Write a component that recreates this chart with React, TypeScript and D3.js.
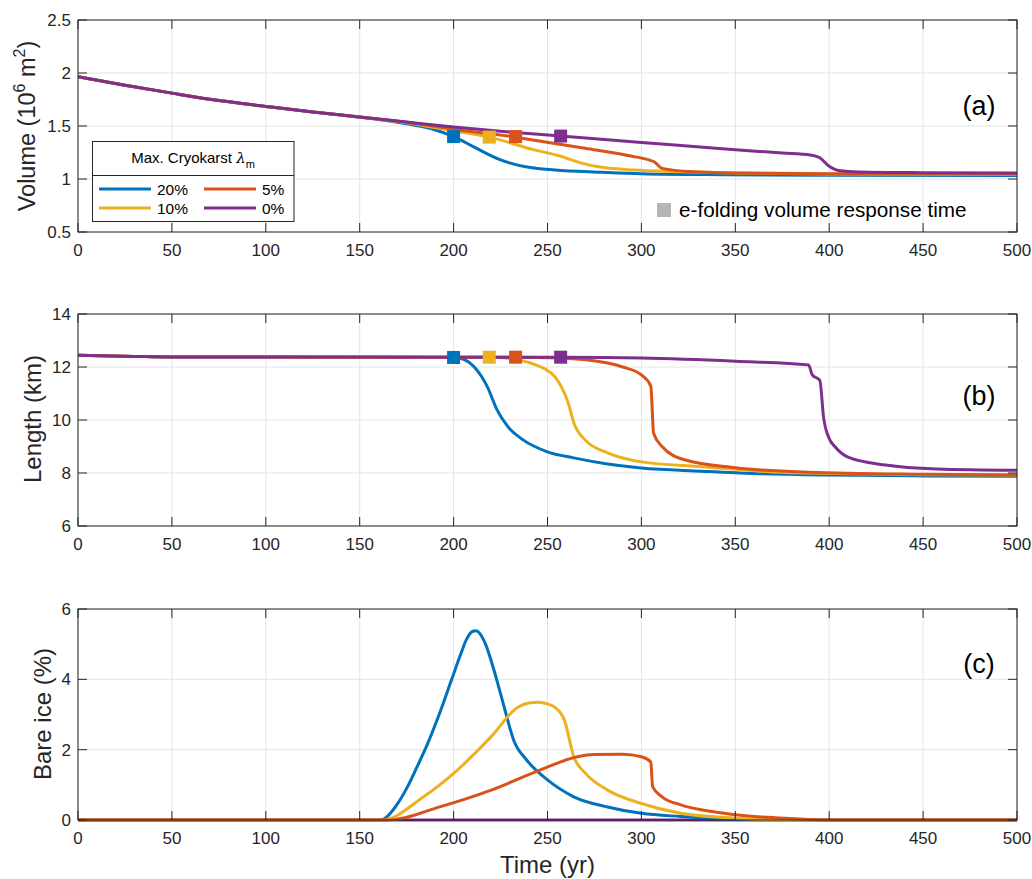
import * as d3 from "d3";

const WIDTH = 1032;
const HEIGHT = 879;
const X_LEFT = 78;
const X_RIGHT = 1017;
const FONT = "'Liberation Sans', Arial, Helvetica, sans-serif";
const AXIS_COLOR = "#262626";
const GRID_COLOR = "#e4e4e4";

// series: max cryokarst 20%, 10%, 5%, 0%
const SERIES_NAMES = ["20%", "10%", "5%", "0%"];
const SERIES_COLORS = ["#0072BD", "#EDB120", "#D95319", "#7E2F8E"];

const TIME_TICKS = [0, 50, 100, 150, 200, 250, 300, 350, 400, 450, 500];

// e-folding response times (yr)
const EFOLD_TIME = [200, 219, 233, 257];
const EFOLD_VOLUME = [1.4, 1.395, 1.4, 1.405];
const EFOLD_LENGTH = [12.36, 12.37, 12.37, 12.37];

// (a) volume, 10^6 m^2
const volume20 = [[0, 1.965], [25, 1.885], [50, 1.81], [75, 1.74], [100, 1.685], [125, 1.632], [150, 1.583], [165, 1.55], [180, 1.505], [190, 1.465], [200, 1.4], [211, 1.3], [225, 1.18], [240, 1.11], [254, 1.085], [279, 1.064], [300, 1.05], [343, 1.04], [400, 1.035], [500, 1.032]];
const volume10 = [[0, 1.965], [25, 1.885], [50, 1.81], [75, 1.74], [100, 1.685], [125, 1.632], [150, 1.585], [175, 1.53], [190, 1.485], [200, 1.455], [219, 1.395], [243, 1.275], [257, 1.215], [268, 1.15], [279, 1.11], [296, 1.085], [343, 1.06], [400, 1.047], [500, 1.042]];
const volume5 = [[0, 1.965], [25, 1.885], [50, 1.81], [75, 1.74], [100, 1.685], [125, 1.632], [150, 1.585], [175, 1.535], [200, 1.47], [233, 1.395], [243, 1.365], [270, 1.29], [295, 1.215], [304, 1.18], [307, 1.16], [311, 1.1], [327, 1.068], [350, 1.057], [400, 1.05], [500, 1.047]];
const volume0 = [[0, 1.965], [25, 1.885], [50, 1.81], [75, 1.74], [100, 1.685], [125, 1.632], [150, 1.585], [175, 1.537], [200, 1.49], [225, 1.45], [257, 1.405], [300, 1.345], [343, 1.285], [375, 1.245], [390, 1.226], [395, 1.2], [400, 1.12], [405, 1.08], [416, 1.066], [450, 1.06], [500, 1.057]];

// (b) length, km
const length20 = [[0, 12.44], [30, 12.4], [50, 12.38], [150, 12.37], [200, 12.36], [205, 12.3], [211, 12.0], [218, 11.25], [223, 10.4], [229, 9.74], [237, 9.25], [250, 8.8], [264, 8.57], [282, 8.34], [300, 8.19], [332, 8.07], [360, 7.98], [400, 7.92], [450, 7.89], [500, 7.88]];
const length10 = [[0, 12.44], [30, 12.4], [50, 12.38], [150, 12.37], [219, 12.37], [230, 12.32], [241, 12.15], [248, 11.95], [254, 11.63], [261, 10.65], [264, 9.9], [270, 9.25], [282, 8.76], [300, 8.42], [332, 8.24], [370, 8.04], [403, 7.98], [450, 7.93], [500, 7.92]];
const length5 = [[0, 12.44], [30, 12.4], [50, 12.38], [150, 12.37], [233, 12.37], [256, 12.34], [282, 12.15], [290, 12.0], [300, 11.7], [305, 11.28], [306.5, 9.5], [311, 9.0], [323, 8.5], [350, 8.2], [389, 8.03], [450, 7.95], [500, 7.92]];
const length0 = [[0, 12.44], [30, 12.4], [50, 12.38], [150, 12.38], [257, 12.37], [300, 12.34], [350, 12.22], [389, 12.08], [391, 11.7], [395, 11.5], [397, 10.1], [400, 9.3], [403, 9.0], [410, 8.6], [430, 8.3], [457, 8.15], [500, 8.1]];

// (c) bare ice, %
const bare20 = [[0, 0], [161, 0], [165, 0.12], [170, 0.45], [175, 0.9], [180, 1.45], [186, 2.15], [193, 3.1], [199, 4.0], [204, 4.75], [207, 5.15], [210, 5.36], [212, 5.38], [214, 5.3], [217, 5.0], [221, 4.35], [227, 3.2], [232, 2.27], [239, 1.7], [250, 1.14], [264, 0.66], [282, 0.37], [300, 0.19], [321, 0.1], [350, 0.02], [380, 0], [500, 0]];
const bare10 = [[0, 0], [162, 0], [184, 0.66], [202, 1.42], [220, 2.37], [234, 3.2], [240, 3.33], [245, 3.35], [250, 3.3], [254, 3.2], [259, 2.84], [264, 1.8], [270, 1.34], [282, 0.85], [300, 0.47], [321, 0.19], [350, 0.05], [370, 0], [500, 0]];
const bare5 = [[0, 0], [165, 0], [193, 0.38], [220, 0.85], [246, 1.42], [266, 1.8], [275, 1.86], [290, 1.87], [300, 1.8], [305, 1.65], [306, 0.94], [311, 0.66], [321, 0.43], [340, 0.22], [360, 0.1], [380, 0.04], [400, 0], [500, 0]];
const bare0 = [[0, 0], [500, 0]];

const PANELS = [
  { id: "(a)", top: 20, bottom: 232, domain: [0.5, 2.5], ticks: [0.5, 1, 1.5, 2, 2.5], series: [volume20, volume10, volume5, volume0], order: [0, 1, 2, 3], markers: EFOLD_VOLUME, labelY: 107 },
  { id: "(b)", top: 314, bottom: 526, domain: [6, 14], ticks: [6, 8, 10, 12, 14], series: [length20, length10, length5, length0], order: [0, 1, 2, 3], markers: EFOLD_LENGTH, labelY: 397 },
  { id: "(c)", top: 609, bottom: 820, domain: [0, 6], ticks: [0, 2, 4, 6], series: [bare20, bare10, bare5, bare0], order: [3, 0, 1, 2], markers: null, labelY: 665 },
];

const x = d3.scaleLinear().domain([0, 500]).range([X_LEFT, X_RIGHT]);
const TICK_LEN = 9;

function Panel({ panel }) {
  const y = d3.scaleLinear().domain(panel.domain).range([panel.bottom, panel.top]);
  const line = d3
    .line()
    .x((d) => x(d[0]))
    .y((d) => y(d[1]))
    .curve(d3.curveMonotoneX);

  return (
    <g>
      {TIME_TICKS.map((t) => (
        <line key={`gx-${t}`} x1={x(t)} x2={x(t)} y1={panel.top} y2={panel.bottom} stroke={GRID_COLOR} strokeWidth={1} />
      ))}
      {panel.ticks.map((v) => (
        <line key={`gy-${v}`} x1={X_LEFT} x2={X_RIGHT} y1={y(v)} y2={y(v)} stroke={GRID_COLOR} strokeWidth={1} />
      ))}

      <g clipPath={`url(#clip-${panel.top})`}>
        {panel.order.map((i) => (
          <path key={`s-${i}`} d={line(panel.series[i]) || ""} fill="none" stroke={SERIES_COLORS[i]} strokeWidth={3} strokeLinejoin="round" />
        ))}
      </g>

      {panel.markers &&
        panel.markers.map((v, i) => (
          <rect key={`m-${i}`} x={x(EFOLD_TIME[i]) - 6.5} y={y(v) - 6.5} width={13} height={13} fill={SERIES_COLORS[i]} />
        ))}

      {/* box + inward ticks */}
      <rect x={X_LEFT} y={panel.top} width={X_RIGHT - X_LEFT} height={panel.bottom - panel.top} fill="none" stroke={AXIS_COLOR} strokeWidth={1} />
      {TIME_TICKS.map((t) => (
        <g key={`tx-${t}`}>
          <line x1={x(t)} x2={x(t)} y1={panel.bottom} y2={panel.bottom - TICK_LEN} stroke={AXIS_COLOR} />
          <line x1={x(t)} x2={x(t)} y1={panel.top} y2={panel.top + TICK_LEN} stroke={AXIS_COLOR} />
          <text x={x(t)} y={panel.bottom + 24} textAnchor="middle" fontSize={17} fill={AXIS_COLOR}>
            {t}
          </text>
        </g>
      ))}
      {panel.ticks.map((v) => (
        <g key={`ty-${v}`}>
          <line x1={X_LEFT} x2={X_LEFT + TICK_LEN} y1={y(v)} y2={y(v)} stroke={AXIS_COLOR} />
          <line x1={X_RIGHT} x2={X_RIGHT - TICK_LEN} y1={y(v)} y2={y(v)} stroke={AXIS_COLOR} />
          <text x={X_LEFT - 7} y={y(v) + 6} textAnchor="end" fontSize={17} fill={AXIS_COLOR}>
            {v}
          </text>
        </g>
      ))}

      <text x={979} y={panel.labelY + 8} textAnchor="middle" fontSize={27} fill="#000">
        {panel.id}
      </text>
    </g>
  );
}

export default function App() {
  const legendRows = [
    { i: 0, col: 0, row: 0 },
    { i: 2, col: 1, row: 0 },
    { i: 1, col: 0, row: 1 },
    { i: 3, col: 1, row: 1 },
  ];

  return (
    <svg
      width={WIDTH}
      height={HEIGHT}
      viewBox={`0 0 ${WIDTH} ${HEIGHT}`}
      style={{ position: "absolute", left: 0, top: 0, background: "#fff" }}
      fontFamily={FONT}
    >
      <defs>
        {PANELS.map((p) => (
          <clipPath key={p.top} id={`clip-${p.top}`}>
            <rect x={X_LEFT} y={p.top - 2} width={X_RIGHT - X_LEFT} height={p.bottom - p.top + 4} />
          </clipPath>
        ))}
      </defs>
      <rect x={0} y={0} width={WIDTH} height={HEIGHT} fill="#fff" />

      {PANELS.map((p) => (
        <Panel key={p.id} panel={p} />
      ))}

      {/* axis labels */}
      <text transform="translate(35 126) rotate(-90)" textAnchor="middle" fontSize={23.5} fill={AXIS_COLOR}>
        Volume (10
        <tspan fontSize={16} dy={-10}>6</tspan>
        <tspan dy={10}> m</tspan>
        <tspan fontSize={16} dy={-10}>2</tspan>
        <tspan dy={10}>)</tspan>
      </text>
      <text transform="translate(41 419) rotate(-90)" textAnchor="middle" fontSize={24} fill={AXIS_COLOR}>
        Length (km)
      </text>
      <text transform="translate(51 714) rotate(-90)" textAnchor="middle" fontSize={24} fill={AXIS_COLOR}>
        Bare ice (%)
      </text>
      <text x={(X_LEFT + X_RIGHT) / 2} y={873} textAnchor="middle" fontSize={24} fill={AXIS_COLOR}>
        Time (yr)
      </text>

      {/* cryokarst legend */}
      <g>
        <rect x={92.5} y={141.5} width={201.5} height={80} fill="#fff" stroke={AXIS_COLOR} strokeWidth={1} />
        <line x1={92.5} x2={294} y1={175.5} y2={175.5} stroke={AXIS_COLOR} strokeWidth={1} />
        <text x={193} y={163} textAnchor="middle" fontSize={15} fill="#000">
          Max. Cryokarst{"  "}
          <tspan fontStyle="italic" fontFamily="'DejaVu Serif', 'Liberation Serif', serif">λ</tspan>
          <tspan fontSize={11} dy={5}>m</tspan>
        </text>
        {legendRows.map(({ i, col, row }) => {
          const lx = 99 + col * 105;
          const ly = 189 + row * 19;
          return (
            <g key={`leg-${i}`}>
              <line x1={lx} x2={lx + 52} y1={ly} y2={ly} stroke={SERIES_COLORS[i]} strokeWidth={3} />
              <text x={lx + 58} y={ly + 6} fontSize={15.5} fill="#000">
                {SERIES_NAMES[i]}
              </text>
            </g>
          );
        })}
      </g>

      {/* e-folding legend */}
      <rect x={657} y={203} width={14} height={14} fill="#b5b5b5" />
      <text x={679} y={217} fontSize={20.7} fill="#000">
        e-folding volume response time
      </text>
    </svg>
  );
}
